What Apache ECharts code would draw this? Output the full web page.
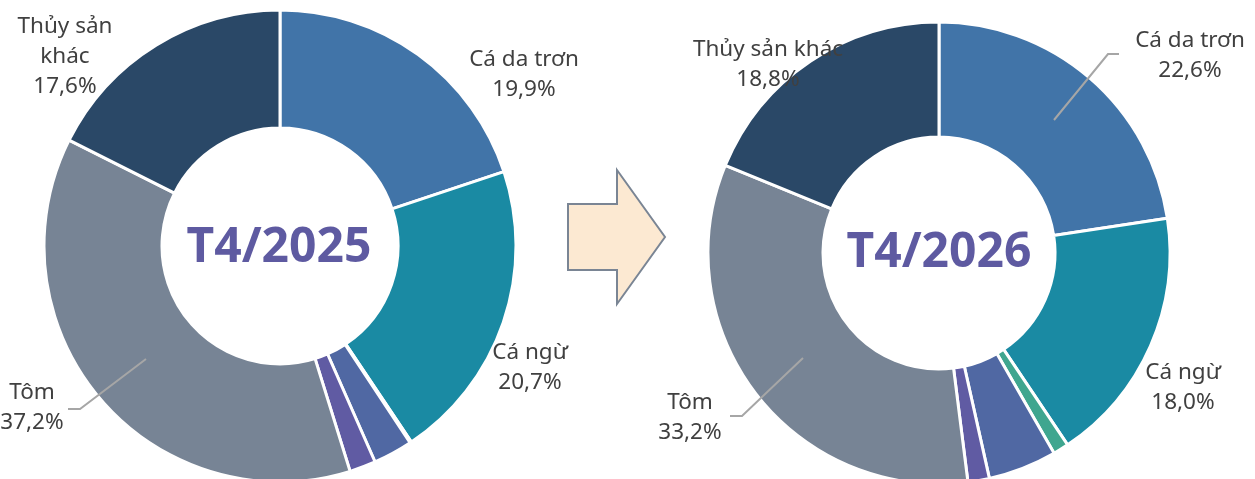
<!DOCTYPE html>
<html>
<head>
<meta charset="utf-8">
<script src="https://cdn.jsdelivr.net/npm/echarts@6/dist/echarts.min.js"></script>
<style>
  html, body { margin: 0; padding: 0; background: #fff; }
  #chart { width: 1255px; height: 479px; }
</style>
</head>
<body>
<div id="chart"></div>
<script>
  // nhóm hàng, theo thứ tự chiều kim đồng hồ từ 12 giờ
  var categories = ['Cá da trơn', 'Cá ngừ', 'Cua ghẹ', 'Mực, bạch tuộc', 'Nhuyễn thể', 'Tôm', 'Thủy sản khác'];
  var share2025 = [19.9, 20.7, 0.1, 2.7, 1.8, 37.2, 17.6];
  var share2026 = [22.6, 18.0, 1.1, 4.8, 1.5, 33.2, 18.8];
  var periods = ['T4/2025', 'T4/2026'];

  var colors = ['#4174a8', '#1a8aa3', '#3fa68f', '#5068a3', '#605ba3', '#778495', '#2a4867'];

  // vị trí nhãn (tâm khối chữ), null = không hiện
  var labelPos2025 = [[524, 75], [530, 368], null, null, null, [32, 408], [65, 57]];
  var labelPos2026 = [[1190, 56], [1183, 388], null, null, null, [690, 418], [768, 65]];
  var labelText2025 = [null, null, null, null, null, null, 'Thủy sản\nkhác'];

  function fmt(v) {
    return v.toFixed(1).replace('.', ',') + '%';
  }

  function buildData(values, pos, texts) {
    return categories.map(function(name, i) {
      return {
        name: name,
        value: values[i],
        itemStyle: { color: colors[i] },
        label: {
          show: pos[i] != null,
          formatter: ((texts && texts[i]) || name) + '\n' + fmt(values[i])
        }
      };
    });
  }

  function layoutFor(pos) {
    return function(params) {
      var p = pos[params.dataIndex];
      if (!p) return {};
      return { x: p[0], y: p[1], align: 'center', verticalAlign: 'middle' };
    };
  }

  var labelStyle = {
    color: '#404040',
    fontSize: 22.5,
    lineHeight: 30,
    fontFamily: 'Noto Sans',
    align: 'center'
  };

  var myChart = echarts.init(document.getElementById('chart'), null, { renderer: 'canvas' });

  var option = {
    animation: false,
    series: [
      {
        type: 'pie',
        center: [280, 246],
        radius: [118, 236],
        startAngle: 90,
        clockwise: true,
        avoidLabelOverlap: false,
        itemStyle: { borderColor: '#fff', borderWidth: 3 },
        label: labelStyle,
        labelLine: { show: false },
        labelLayout: layoutFor(labelPos2025),
        emphasis: { disabled: true },
        data: buildData(share2025, labelPos2025, labelText2025)
      },
      {
        type: 'pie',
        center: [939, 253],
        radius: [116, 231],
        startAngle: 90,
        clockwise: true,
        avoidLabelOverlap: false,
        itemStyle: { borderColor: '#fff', borderWidth: 3 },
        label: labelStyle,
        labelLine: { show: false },
        labelLayout: layoutFor(labelPos2026),
        emphasis: { disabled: true },
        data: buildData(share2026, labelPos2026)
      }
    ],
    graphic: [
      // mũi tên
      {
        type: 'polygon',
        shape: {
          points: [[568, 204], [617, 204], [617, 170], [665, 237], [617, 304], [617, 270], [568, 270]]
        },
        style: { fill: '#fce9d2', stroke: '#7a8594', lineWidth: 2 }
      },
      // chữ giữa vòng
      {
        type: 'text', x: 279, y: 248,
        style: {
          text: periods[0], fill: '#5e5aa1', font: 'bold 48px "Noto Sans"',
          align: 'center', verticalAlign: 'middle'
        }
      },
      {
        type: 'text', x: 939, y: 253,
        style: {
          text: periods[1], fill: '#5e5aa1', font: 'bold 48px "Noto Sans"',
          align: 'center', verticalAlign: 'middle'
        }
      },
      // đường dẫn nhãn
      {
        type: 'polyline', z: 10,
        shape: { points: [[146, 359], [80, 409], [68, 409]] },
        style: { stroke: '#a6a6a6', lineWidth: 2, fill: null }
      },
      {
        type: 'polyline', z: 10,
        shape: { points: [[803, 358], [742, 416], [730, 416]] },
        style: { stroke: '#a6a6a6', lineWidth: 2, fill: null }
      },
      {
        type: 'polyline', z: 10,
        shape: { points: [[1054, 120], [1108, 54], [1119, 54]] },
        style: { stroke: '#a6a6a6', lineWidth: 2, fill: null }
      }
    ]
  };

  myChart.setOption(option);
</script>
</body>
</html>
